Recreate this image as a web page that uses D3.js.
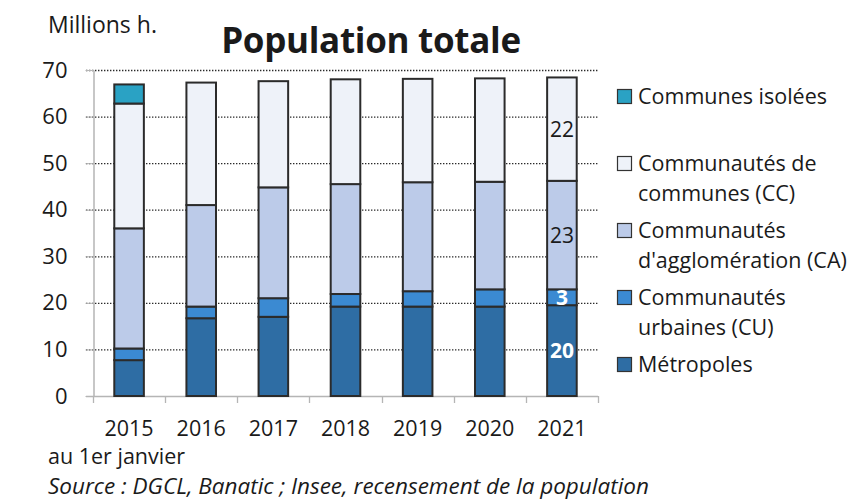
<!DOCTYPE html>
<html>
<head>
<meta charset="utf-8">
<script src="https://cdn.jsdelivr.net/npm/d3@7"></script>
<style>
  body { margin: 0; background: #fff; }
  text { font-family: "Open Sans", sans-serif; fill: #1a1a1a; }
</style>
</head>
<body>
<div id="chart"></div>
<script>
// values, millions of inhabitants
const years = ['2015', '2016', '2017', '2018', '2019', '2020', '2021'];
const metropoles = [7.7, 16.7, 17.0, 19.2, 19.2, 19.2, 19.5];
const urbaines = [2.5, 2.5, 4.0, 2.7, 3.3, 3.7, 3.4];
const agglomeration = [25.8, 21.8, 23.8, 23.6, 23.4, 23.1, 23.3];
const communesCC = [26.8, 26.3, 22.8, 22.5, 22.2, 22.2, 22.2];
const isolees = [4.1, 0, 0, 0, 0, 0, 0];
const yTicks = [0, 10, 20, 30, 40, 50, 60, 70];

const seriesKeys = ['met', 'cu', 'ca', 'cc', 'ci'];
const seriesNames = {
    ci: ['Communes isolées'],
    cc: ['Communautés de', 'communes (CC)'],
    ca: ['Communautés', "d'agglomération (CA)"],
    cu: ['Communautés', 'urbaines (CU)'],
    met: ['Métropoles']
};
const colours = {
    met: '#2e6da4',
    cu: '#3b8ad2',
    ca: '#bccbe9',
    cc: '#eef2f9',
    ci: '#2aa2c4'
};

const width = 861;
const height = 499;

const rows = years.map((y, i) => ({
    year: y,
    met: metropoles[i],
    cu: urbaines[i],
    ca: agglomeration[i],
    cc: communesCC[i],
    ci: isolees[i]
}));

const svg = d3.select('#chart')
    .append('svg')
    .attr('width', width)
    .attr('height', height)
    .attr('viewBox', [0, 0, width, height]);

const padInner = 0.59;
const x = d3.scaleBand()
    .domain(years)
    .range([93, 598])
    .paddingInner(padInner)
    .paddingOuter(padInner / 2);
const y = d3.scaleLinear()
    .domain([0, 70])
    .range([396, 70]);

// gridlines
svg.append('g')
    .selectAll('line')
    .data(yTicks.filter(d => d > 0))
    .enter()
    .append('line')
    .attr('x1', 86)
    .attr('x2', 598)
    .attr('y1', d => y(d) + 0.5)
    .attr('y2', d => y(d) + 0.5)
    .attr('stroke', '#2a2a2a')
    .attr('stroke-width', 1.3)
    .attr('stroke-dasharray', '1.4,1.6');

// y axis
const yAxis = svg.append('g')
    .attr('transform', 'translate(93.5,0)')
    .call(d3.axisLeft(y).tickValues(yTicks).tickSize(8).tickPadding(18).tickSizeOuter(0));
yAxis.select('.domain').attr('stroke', '#b5b5b5').attr('stroke-width', 1.5);
yAxis.selectAll('.tick line').attr('stroke', '#b5b5b5');
yAxis.selectAll('.tick text')
    .attr('font-family', '"Open Sans", sans-serif')
    .attr('font-size', 22)
    .attr('fill', '#1a1a1a');

// x axis: line and ticks at the band edges
const step = x.step();
svg.append('line')
    .attr('x1', 86).attr('x2', 598)
    .attr('y1', y(0) + 0.5).attr('y2', y(0) + 0.5)
    .attr('stroke', '#b5b5b5')
    .attr('stroke-width', 1.5);
const edges = years.map(d => x(d) - step * padInner / 2).concat([x(years[years.length - 1]) + x.bandwidth() + step * padInner / 2]);
svg.append('g')
    .selectAll('line')
    .data(edges)
    .enter()
    .append('line')
    .attr('x1', d => Math.round(d) + 0.5)
    .attr('x2', d => Math.round(d) + 0.5)
    .attr('y1', y(0))
    .attr('y2', y(0) + 7)
    .attr('stroke', '#b5b5b5')
    .attr('stroke-width', 1.3);

svg.append('g')
    .selectAll('text')
    .data(years)
    .enter()
    .append('text')
    .attr('x', d => x(d) + x.bandwidth() / 2)
    .attr('y', 436)
    .attr('text-anchor', 'middle')
    .attr('font-size', 21.5)
    .text(d => d);

// stacked bars
const stacked = d3.stack().keys(seriesKeys)(rows);
svg.append('g')
    .selectAll('g')
    .data(stacked)
    .enter()
    .append('g')
    .attr('fill', d => colours[d.key])
    .selectAll('rect')
    .data(d => d.filter(s => s[1] - s[0] > 0))
    .enter()
    .append('rect')
    .attr('x', d => x(d.data.year))
    .attr('y', d => y(d[1]))
    .attr('width', x.bandwidth())
    .attr('height', d => y(d[0]) - y(d[1]))
    .attr('stroke', '#2b2b2b')
    .attr('stroke-width', 2);

// labels on the last bar
const last = years[years.length - 1];
const lastLayers = stacked.filter(s => s.key !== 'ci').map(s => ({ key: s.key, seg: s[s.length - 1] }));
svg.append('g')
    .selectAll('text')
    .data(lastLayers)
    .enter()
    .append('text')
    .attr('x', x(last) + x.bandwidth() / 2)
    .attr('y', d => y((d.seg[0] + d.seg[1]) / 2))
    .attr('dy', '0.36em')
    .attr('text-anchor', 'middle')
    .attr('font-size', 21)
    .attr('font-weight', d => (d.key === 'met' || d.key === 'cu') ? 'bold' : 'normal')
    .style('fill', d => (d.key === 'met' || d.key === 'cu') ? '#ffffff' : '#1a1a1a')
    .text(d => Math.round(d.seg[1] - d.seg[0]));

// legend
const legendOrder = ['ci', 'cc', 'ca', 'cu', 'met'];
const legend = svg.append('g')
    .selectAll('g')
    .data(legendOrder)
    .enter()
    .append('g')
    .attr('transform', (d, i) => `translate(617, ${104 + i * 67})`);
legend.append('rect')
    .attr('x', 0.5)
    .attr('y', -14.5)
    .attr('width', 14)
    .attr('height', 14)
    .attr('fill', d => colours[d])
    .attr('stroke', '#333')
    .attr('stroke-width', 1.2);
legend.append('text')
    .attr('x', 21)
    .attr('font-size', 21.5)
    .selectAll('tspan')
    .data(d => seriesNames[d])
    .enter()
    .append('tspan')
    .attr('x', 21)
    .attr('y', (d, i) => i * 30)
    .text(d => d);

// titles and notes
svg.append('text')
    .attr('x', 48)
    .attr('y', 33)
    .attr('font-size', 23)
    .text('Millions h.');
svg.append('text')
    .attr('x', 371)
    .attr('y', 53)
    .attr('text-anchor', 'middle')
    .attr('font-size', 35)
    .attr('font-weight', 'bold')
    .attr('letter-spacing', -0.3)
    .text('Population totale');
svg.append('text')
    .attr('x', 48)
    .attr('y', 463.5)
    .attr('font-size', 21.5)
    .text('au 1er janvier');
svg.append('text')
    .attr('x', 48)
    .attr('y', 493.5)
    .attr('font-size', 22.5)
    .attr('font-style', 'italic')
    .text('Source : DGCL, Banatic ; Insee, recensement de la population');
</script>
</body>
</html>
